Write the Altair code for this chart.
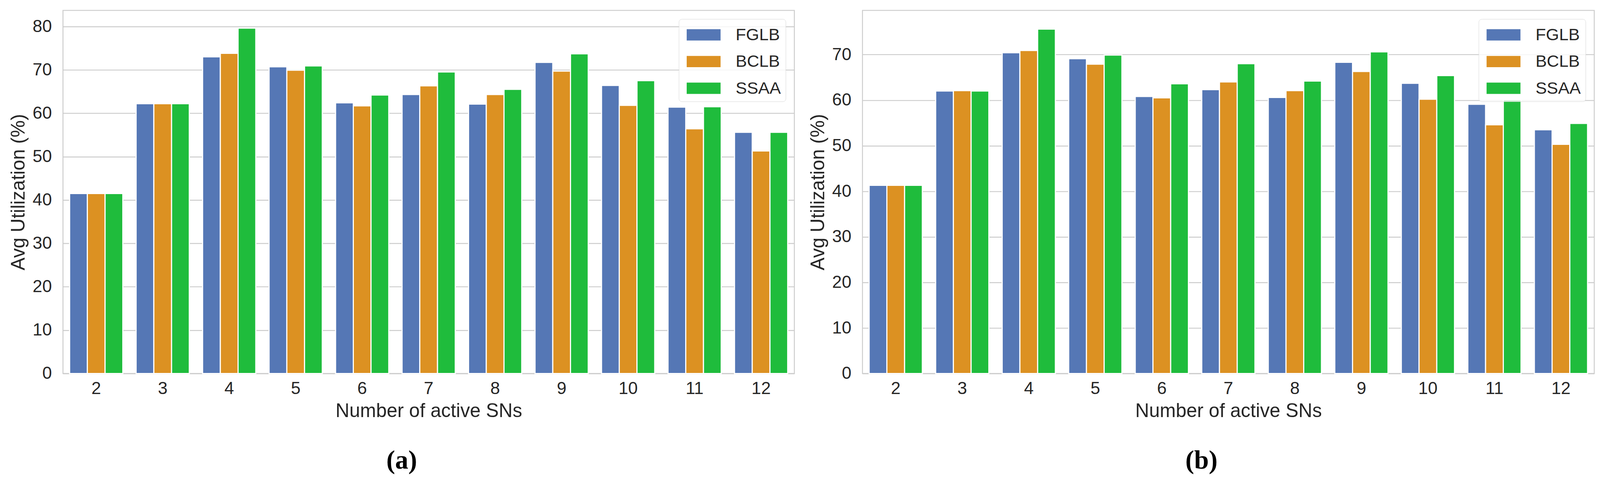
import pandas as pd
import altair as alt

# Number of active SNs (x categories)
sn_counts = [2, 3, 4, 5, 6, 7, 8, 9, 10, 11, 12]
methods = ["FGLB", "BCLB", "SSAA"]
colors = ["#5577b5", "#dc9122", "#1fbc3c"]

# Panel (a) average utilization (%)
a_fglb = [41.5, 62.2, 73.0, 70.7, 62.4, 64.3, 62.1, 71.7, 66.4, 61.4, 55.6]
a_bclb = [41.5, 62.2, 73.8, 69.9, 61.7, 66.3, 64.3, 69.7, 61.8, 56.4, 51.3]
a_ssaa = [41.5, 62.2, 79.6, 70.9, 64.2, 69.5, 65.5, 73.7, 67.5, 61.5, 55.6]

# Panel (b) average utilization (%)
b_fglb = [41.3, 62.0, 70.4, 69.1, 60.8, 62.3, 60.6, 68.3, 63.7, 59.1, 53.5]
b_bclb = [41.3, 62.1, 70.9, 67.9, 60.5, 64.0, 62.1, 66.3, 60.2, 54.6, 50.3]
b_ssaa = [41.3, 62.0, 75.6, 69.9, 63.6, 68.0, 64.2, 70.6, 65.4, 60.1, 54.9]

a_ticks = [0, 10, 20, 30, 40, 50, 60, 70, 80]
b_ticks = [0, 10, 20, 30, 40, 50, 60, 70]


def to_long(series):
    rows = []
    for name, vals in zip(methods, series):
        for n, v in zip(sn_counts, vals):
            rows.append({"sn": n, "method": name, "value": v})
    return pd.DataFrame(rows)


def panel(df, y_max, y_ticks, caption, width):
    return alt.Chart(df).mark_bar(stroke="white", strokeWidth=3).encode(
        x=alt.X("sn:O", title="Number of active SNs",
                scale=alt.Scale(paddingInner=0.2, paddingOuter=0.1),
                axis=alt.Axis(labelAngle=0)),
        xOffset=alt.XOffset("method:N", sort=methods,
                            scale=alt.Scale(paddingInner=0, paddingOuter=0)),
        y=alt.Y("value:Q", title="Avg Utilization (%)",
                scale=alt.Scale(domain=[0, y_max], nice=False, zero=True),
                axis=alt.Axis(values=y_ticks)),
        color=alt.Color("method:N", sort=methods,
                        scale=alt.Scale(domain=methods, range=colors),
                        legend=alt.Legend(
                            title=None, orient="top-right", offset=23,
                            symbolType="M-0.7,-0.5H2.3V0.5H-0.7Z",
                            symbolSize=3600, symbolStrokeWidth=0,
                            labelOffset=79, labelFontSize=45,
                            labelColor="#262626", rowPadding=18,
                            padding=12, cornerRadius=8,
                            fillColor="rgba(255,255,255,0.8)",
                            strokeColor="#d6d6d6",
                        )),
    ).properties(
        width=width, height=965,
        title=alt.TitleParams(caption, orient="bottom", anchor="middle",
                              frame="bounds", offset=73,
                              font="Liberation Serif", fontSize=70,
                              fontWeight="bold", color="black"),
    )


chart_a = panel(to_long([a_fglb, a_bclb, a_ssaa]), 83.7, a_ticks, "(a)", 1943)
chart_b = panel(to_long([b_fglb, b_bclb, b_ssaa]), 79.7, b_ticks, "(b)", 1944)

chart = alt.hconcat(chart_a, chart_b, spacing=34).resolve_scale(
    color="independent", y="independent", x="independent"
).resolve_legend(color="independent").properties(
    padding={"left": 14, "top": -6, "right": 5, "bottom": 5}
).configure(
    font="Liberation Sans"
).configure_view(
    stroke="#cccccc", strokeWidth=2.5
).configure_axis(
    domain=False, ticks=False, grid=True, gridColor="#cccccc", gridWidth=2.5,
    labelFontSize=46, labelColor="#262626", titleFontSize=51,
    titleColor="#262626", titleFontWeight="normal",
).configure_axisX(
    grid=False, labelPadding=18, titlePadding=12
).configure_axisY(
    labelPadding=30, titlePadding=10
)

chart.save("out.html", embed_options={"renderer": "svg", "actions": False})
